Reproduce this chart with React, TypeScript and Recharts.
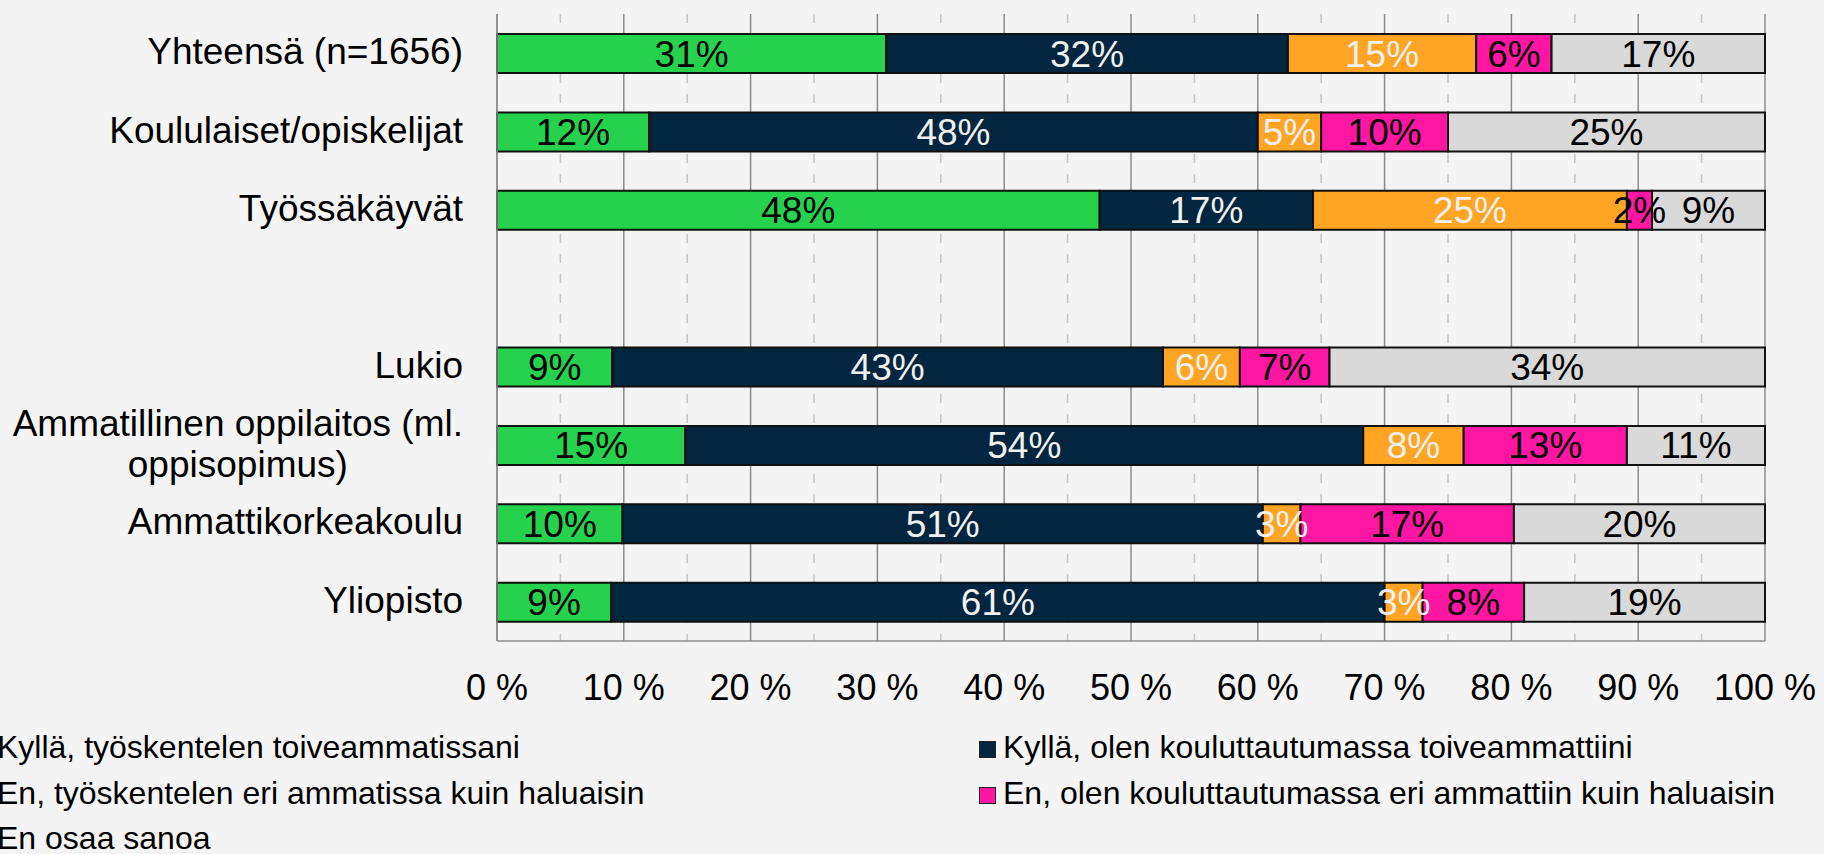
import React from "react";
import {
  BarChart,
  Bar,
  XAxis,
  YAxis,
  CartesianGrid,
  LabelList,
} from "recharts";

const categories = [
  "Yhteensä (n=1656)",
  "Koululaiset/opiskelijat",
  "Työssäkäyvät",
  "",
  "Lukio",
  "Ammatillinen oppilaitos (ml. oppisopimus)",
  "Ammattikorkeakoulu",
  "Yliopisto",
];

// percentages per answer, one entry per category (blank row = spacer)
const workingDesired = [31, 12, 48, null, 9, 15, 10, 9];
const studyingDesired = [32, 48, 17, null, 43, 54, 51, 61];
const workingOther = [15, 5, 25, null, 6, 8, 3, 3];
const studyingOther = [6, 10, 2, null, 7, 13, 17, 8];
const cantSay = [17, 25, 9, null, 34, 11, 20, 19];

const xTicks = [0, 0.1, 0.2, 0.3, 0.4, 0.5, 0.6, 0.7, 0.8, 0.9, 1];
const halfTicks = [0.05, 0.15, 0.25, 0.35, 0.45, 0.55, 0.65, 0.75, 0.85, 0.95];

const series = [
  { key: "wd", name: "Kyllä, työskentelen toiveammatissani", values: workingDesired, fill: "#26d24d", text: "#000" },
  { key: "sd", name: "Kyllä, olen kouluttautumassa toiveammattiini", values: studyingDesired, fill: "#02263f", text: "#f0f0f0" },
  { key: "wo", name: "En, työskentelen eri ammatissa kuin haluaisin", values: workingOther, fill: "#ffa523", text: "#f0f0f0" },
  { key: "so", name: "En, olen kouluttautumassa eri ammattiin kuin haluaisin", values: studyingOther, fill: "#ff16a2", text: "#000" },
  { key: "cs", name: "En osaa sanoa", values: cantSay, fill: "#d9d9d9", text: "#000" },
];

const FONT = "'Liberation Sans', Arial, sans-serif";

const data = categories.map((name, i) => {
  const row: Record<string, any> = { name };
  series.forEach((s) => {
    row[s.key] = s.values[i] ?? 0;
  });
  return row;
});

let ctx: CanvasRenderingContext2D | null = null;
function textWidth(t: string, size: number) {
  if (!ctx) ctx = document.createElement("canvas").getContext("2d");
  if (!ctx) return t.length * size * 0.5;
  ctx.font = `${size}px ${FONT}`;
  return ctx.measureText(t).width;
}

function wrap(label: string, size: number, max: number) {
  const words = label.split(" ");
  const lines: string[] = [];
  let cur = "";
  words.forEach((w) => {
    const next = cur ? cur + " " + w : w;
    if (cur && textWidth(next, size) > max) {
      lines.push(cur);
      cur = w;
    } else cur = next;
  });
  if (cur) lines.push(cur);
  return lines;
}

function CategoryTick(props: any) {
  const { x, y, payload } = props;
  const label = String(payload?.value ?? "");
  if (!label) return null;
  const lines = wrap(label, 37, 475);
  const widest = Math.max(...lines.map((l) => textWidth(l, 37)));
  const cx = x - widest / 2;
  const lh = 41;
  const first = y + 11 - ((lines.length - 1) * lh) / 2;
  return (
    <text fontSize={37} fontFamily={FONT} fill="#000">
      {lines.map((l, i) => (
        <tspan
          key={i}
          x={lines.length > 1 ? cx : x}
          y={first + i * lh}
          textAnchor={lines.length > 1 ? "middle" : "end"}
        >
          {l}
        </tspan>
      ))}
    </text>
  );
}

function segmentLabel(color: string) {
  return (props: any) => {
    const { x, y, width, height, value } = props;
    const v = Array.isArray(value) ? value[1] - value[0] : value;
    if (!v) return null;
    return (
      <text
        x={x + width / 2}
        y={y + height / 2 + 13}
        textAnchor="middle"
        fontSize={37}
        fontFamily={FONT}
        fill={color}
      >
        {`${v}%`}
      </text>
    );
  };
}

// dashed half-step gridlines, placed on the plot's x range
function halfGrid(args: any) {
  const sc = args?.xAxis?.scale;
  if (typeof sc === "function") return halfTicks.map((t) => sc(t));
  const { left, width } = args.offset;
  return halfTicks.map((t) => left + t * width);
}

function Legend() {
  return (
    <div
      style={{
        position: "absolute",
        left: -27,
        top: 725,
        display: "grid",
        gridTemplateColumns: "1006px 1006px",
        fontFamily: FONT,
        fontSize: 32,
        lineHeight: "45.5px",
        color: "#000",
        whiteSpace: "nowrap",
      }}
    >
      {series.map((s) => (
        <div key={s.key} style={{ position: "relative", height: 45.5, paddingLeft: 24 }}>
          <span
            style={{
              position: "absolute",
              left: 0,
              top: 16,
              width: 15,
              height: 15,
              background: s.fill,
              border: "1px solid #222",
            }}
          />
          {s.name}
        </div>
      ))}
    </div>
  );
}

export default function App() {
  return (
    <div
      style={{
        position: "fixed",
        left: 0,
        top: 0,
        width: 1824,
        height: 854,
        background: "#f4f4f4",
        overflow: "hidden",
        fontFamily: FONT,
      }}
    >
      <BarChart
        width={1824}
        height={854}
        data={data}
        layout="vertical"
        stackOffset="expand"
        barSize={39}
        margin={{ top: 14, right: 59, bottom: 0, left: 0 }}
      >
        <CartesianGrid
          horizontal={false}
          stroke="#c4c4c4"
          strokeWidth={1.5}
          strokeDasharray="9 11"
          verticalCoordinatesGenerator={halfGrid}
        />
        <CartesianGrid horizontal={false} stroke="#8c8c8c" strokeWidth={1.5} />
        <XAxis
          type="number"
          domain={[0, 1]}
          ticks={xTicks}
          tickFormatter={(v: number) => `${Math.round(v * 100)} %`}
          tick={{ fontSize: 36, fill: "#000", fontFamily: FONT }}
          tickSize={0}
          tickMargin={33}
          axisLine={{ stroke: "#8c8c8c", strokeWidth: 1.5 }}
          height={213}
          interval={0}
        />
        <XAxis
          xAxisId="top"
          orientation="top"
          type="number"
          domain={[0, 1]}
          tick={false}
          tickLine={false}
          height={0}
          axisLine={{ stroke: "#8c8c8c", strokeWidth: 1.5 }}
        />
        <YAxis
          type="category"
          dataKey="name"
          width={497}
          tickSize={0}
          tickMargin={34}
          tick={<CategoryTick />}
          axisLine={{ stroke: "#8c8c8c", strokeWidth: 1.5 }}
          interval={0}
        />
        {series.map((s) => (
          <Bar
            key={s.key}
            dataKey={s.key}
            name={s.name}
            stackId="a"
            fill={s.fill}
            stroke="#111"
            strokeWidth={2}
            isAnimationActive={false}
          >
            <LabelList dataKey={s.key} content={segmentLabel(s.text)} />
          </Bar>
        ))}
      </BarChart>
      <Legend />
    </div>
  );
}
